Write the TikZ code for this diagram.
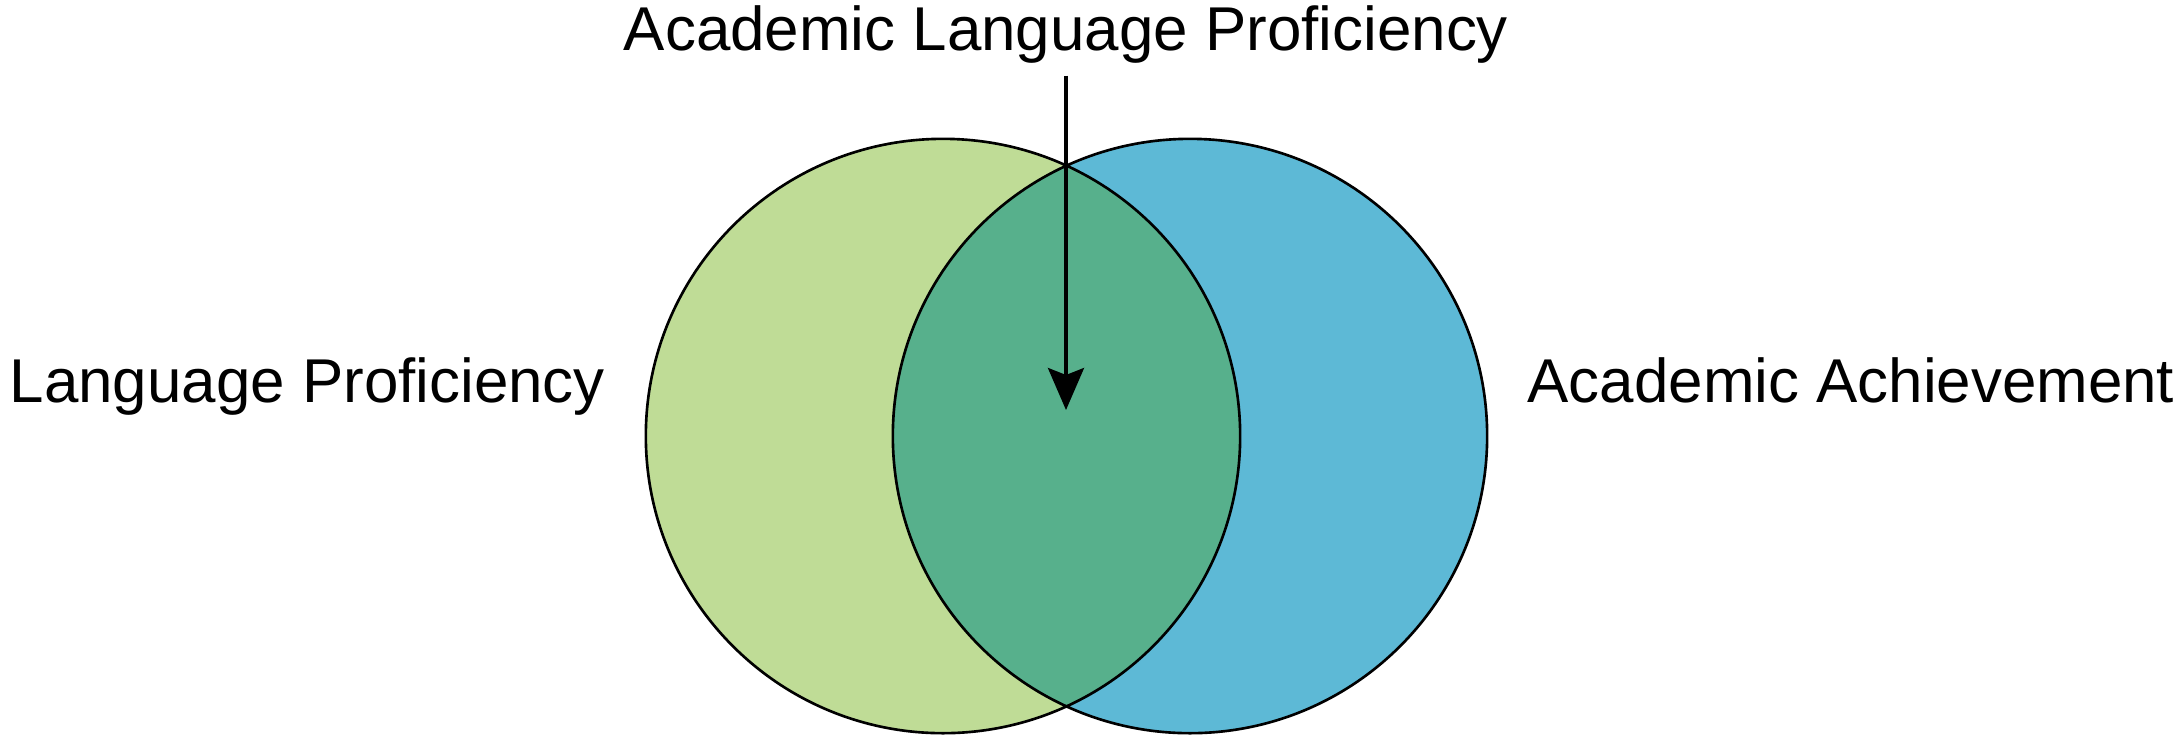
\documentclass[tikz,border=0pt]{standalone}
\usepackage{fontspec}
\setmainfont{Liberation Sans}
\usetikzlibrary{arrows.meta}
\definecolor{langgreen}{HTML}{BFDC96}
\definecolor{acadblue}{HTML}{5DB9D6}
\definecolor{lensgreen}{HTML}{57B08C}
\begin{document}
\begin{tikzpicture}[
x=.01cm, y=-.01cm,
set/.style={circle, inner sep=0pt, minimum size=5.94cm},
rim/.style={line width=.75pt, black},
fontnode/.style={inner sep=0pt, anchor=base, font=\fontsize{17.6}{20}\selectfont},
pointer/.style={line width=1pt, -{Stealth[length=4.2mm, width=3.6mm, inset=.7mm]}}
]

\useasboundingbox (0,0) rectangle (2177,735);

%%%% SETS

\node[set, fill=langgreen](lang) at (943,436){};
\node[set, fill=acadblue](acad) at (1190,436){};
\begin{scope}
\clip (lang.center) circle (2.97cm);
\fill[lensgreen] (acad.center) circle (2.97cm);
\end{scope}
\draw[rim] (lang.center) circle (2.97cm) (acad.center) circle (2.97cm);

%%%% LABELS

\node[fontnode](title) at (1066,50){Academic Language Proficiency};
\node[fontnode, anchor=base west](langtext) at (9,402){Language Proficiency};
\node[fontnode, anchor=base east](acadtext) at (2175,402){Academic Achievement};

%% pointer into the overlap
\coordinate (lenstip) at (1066,410);
\draw[pointer, shorten <=1.2mm] (title.south)--(lenstip);

\end{tikzpicture}
\end{document}
